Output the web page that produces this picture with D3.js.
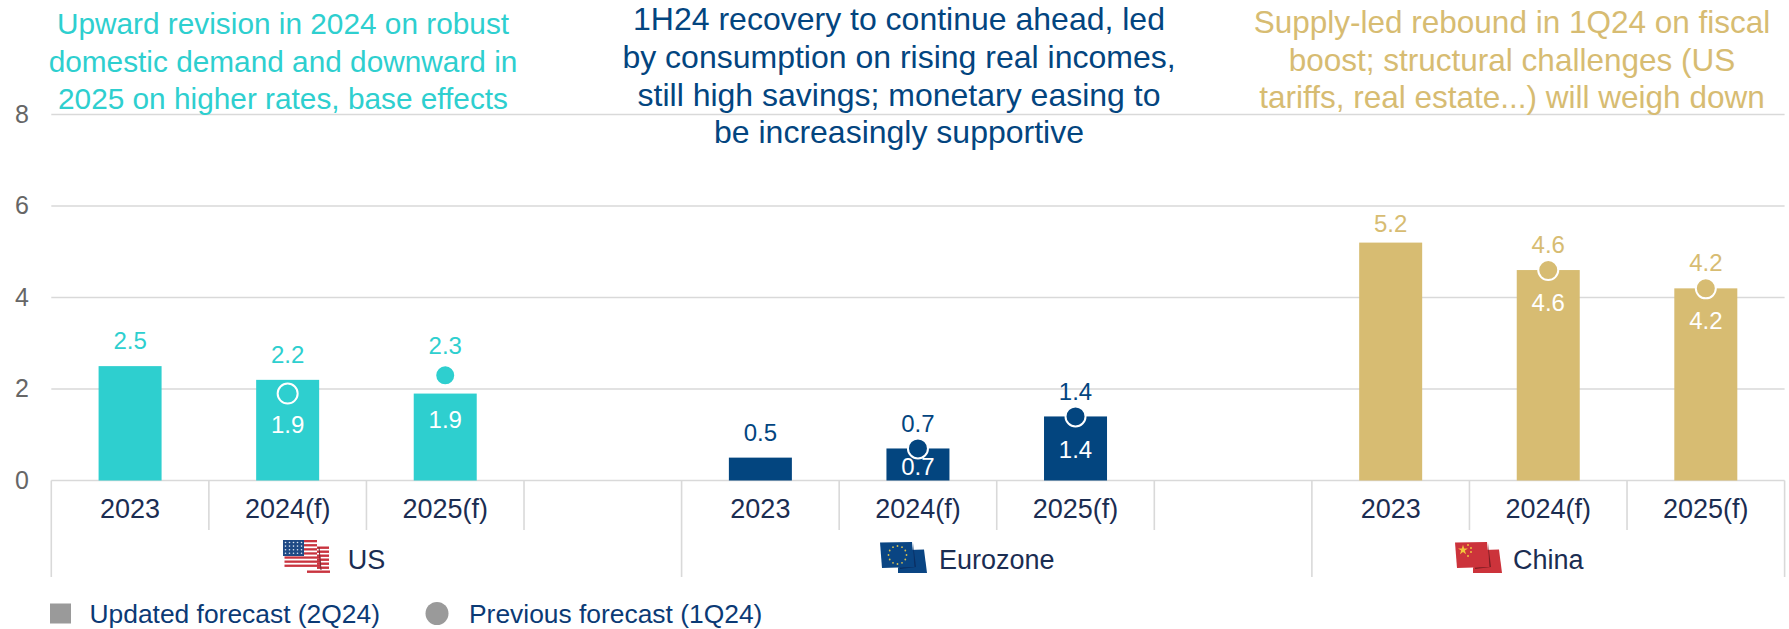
<!DOCTYPE html>
<html>
<head>
<meta charset="utf-8">
<script src="https://cdn.jsdelivr.net/npm/d3@7/dist/d3.min.js"></script>
<style>
html,body{margin:0;padding:0;background:#fff;}
svg{display:block;}
text{font-family:"Liberation Sans",Arial,sans-serif;}
</style>
</head>
<body>
<svg id="chart" width="1789" height="629"></svg>
<script>
// GDP growth forecasts by region
const regions = ["US", "Eurozone", "China"];
const years = ["2023", "2024(f)", "2025(f)"];
const usUpdated = [2.5, 2.2, 1.9];
const usPrevious = [null, 1.9, 2.3];
const eurozoneUpdated = [0.5, 0.7, 1.4];
const eurozonePrevious = [null, 0.7, 1.4];
const chinaUpdated = [5.2, 4.6, 4.2];
const chinaPrevious = [null, 4.6, 4.2];
const yTicks = [0, 2, 4, 6, 8];
const commentary = [
  ["Upward revision in 2024 on robust", "domestic demand and downward in", "2025 on higher rates, base effects"],
  ["1H24 recovery to continue ahead, led", "by consumption on rising real incomes,", "still high savings; monetary easing to", "be increasingly supportive"],
  ["Supply-led rebound in 1Q24 on fiscal", "boost; structural challenges (US", "tariffs, real estate...) will weigh down"]
];
const legendLabels = ["Updated forecast (2Q24)", "Previous forecast (1Q24)"];

const updated = [usUpdated, eurozoneUpdated, chinaUpdated];
const previous = [usPrevious, eurozonePrevious, chinaPrevious];

// Presentation
const regionColor = ["#2ECFCF", "#03457F", "#D7BC72"];
const gridColor = "#D9D9D9";
const axisText = "#1B2D52";
const legendText = "#0B3A75";
const greyKey = "#9A9A9A";

const svg = d3.select("#chart");
const left = 51.3, right = 1784.6, y0 = 480.5, y8 = 114.5;

// Eleven equal slots: each region takes its years plus a spacer, China has no spacer
const slots = [];
regions.forEach((r, ri) => {
  years.forEach(yr => slots.push(r + "|" + yr));
  if (ri < regions.length - 1) slots.push(r + "|gap");
});
const x = d3.scaleBand().domain(slots).range([left, right]);
const y = d3.scaleLinear().domain([0, 8]).range([y0, y8]);
const barWidth = 63;

// Horizontal grid and value axis labels
svg.append("g").selectAll("line").data(yTicks).join("line")
  .attr("x1", left).attr("x2", right)
  .attr("y1", d => y(d)).attr("y2", d => y(d))
  .attr("stroke", gridColor).attr("stroke-width", 1.6);
svg.append("g").selectAll("text").data(yTicks).join("text")
  .attr("x", 22).attr("y", d => y(d) - 1).attr("dy", "0.36em")
  .attr("text-anchor", "middle").attr("font-size", 25).attr("fill", "#666666")
  .text(d => d);

// Slot and region separators below the baseline
const sepG = svg.append("g").attr("stroke", gridColor).attr("stroke-width", 1.6);
slots.forEach(s => {
  const px = x(s);
  const isRegionStart = s.endsWith("|2023");
  sepG.append("line").attr("x1", px).attr("x2", px).attr("y1", y0)
    .attr("y2", isRegionStart ? 577 : 530);
});
sepG.append("line").attr("x1", right).attr("x2", right).attr("y1", y0).attr("y2", 577);

// Vertical gaps between a mark and its labels, tuned per label to avoid collisions
const aboveGap = {"US|2025(f)": 30, "China|2023": 19};
const insideGap = {"US|2024(f)": 44.5, "US|2025(f)": 44.5, "Eurozone|2024(f)": 18};

regions.forEach((region, ri) => {
  const color = regionColor[ri];
  const g = svg.append("g");
  years.forEach((yr, i) => {
    const key = region + "|" + yr;
    const cx = x(key) + x.bandwidth() / 2;
    const u = updated[ri][i], p = previous[ri][i];

    g.append("rect")
      .attr("x", cx - barWidth / 2).attr("width", barWidth)
      .attr("y", y(u)).attr("height", y0 - y(u))
      .attr("fill", color);

    if (p !== null) {
      g.append("circle").attr("cx", cx).attr("cy", y(p)).attr("r", 10)
        .attr("fill", color).attr("stroke", "#fff").attr("stroke-width", 2);
    }

    const hi = p === null ? u : Math.max(u, p);
    const lo = p === null ? null : Math.min(u, p);
    g.append("text")
      .attr("x", cx).attr("y", y(hi) - (aboveGap[key] ?? 25.5)).attr("dy", "0.36em")
      .attr("text-anchor", "middle").attr("font-size", 24).attr("fill", color)
      .text(d3.format(".1f")(hi));
    if (lo !== null) {
      g.append("text")
        .attr("x", cx).attr("y", y(hi) + (insideGap[key] ?? 32.5)).attr("dy", "0.36em")
        .attr("text-anchor", "middle").attr("font-size", 24).attr("fill", "#fff")
        .text(d3.format(".1f")(lo));
    }

    // Year label under the baseline
    svg.append("text")
      .attr("x", cx).attr("y", 508.5).attr("dy", "0.36em")
      .attr("text-anchor", "middle").attr("font-size", 27).attr("fill", axisText)
      .text(yr);
  });
});

// Waving flag icon: a front panel and a darker back panel, with painted details
function flag(cx, top, base, dark, paint) {
  const f = svg.append("g").attr("transform", `translate(${cx},${top})`);
  f.append("path").attr("d", "M28,8 L44,7.5 L47,31 L18,31 L18,26 Z").attr("fill", base);
  f.append("path").attr("d", "M33,1 L36,25 L20,27 L20,25.5 L34,24 Z").attr("fill", dark);
  f.append("path").attr("d", "M0,0.5 L32,0 L34.5,25 L2,26 Z").attr("fill", base);
  if (paint) paint(f);
}

const groupCenter = [
  (x("US|2023") + x("Eurozone|2023")) / 2,
  (x("Eurozone|2023") + x("China|2023")) / 2,
  (x("China|2023") + right) / 2
];

// Region names
regions.forEach((r, i) => {
  svg.append("text")
    .attr("x", groupCenter[i]).attr("y", 559.5).attr("dy", "0.36em")
    .attr("text-anchor", "middle").attr("font-size", 27).attr("fill", axisText)
    .text(r);
});

// US flag drawn as separate stripes over a white ground
(function () {
  const f = svg.append("g").attr("transform", "translate(283,540)");
  const red = "#C9343F";
  const frontStripes = d3.range(0, 7);
  f.selectAll("rect.front").data(frontStripes).join("rect")
    .attr("x", d => d < 4 ? 21 : 1.5).attr("width", d => d < 4 ? 13 : 36)
    .attr("y", d => d * 4.1).attr("height", 2.3).attr("fill", red);
  f.selectAll("rect.back").data(frontStripes).join("rect")
    .attr("x", d => d === 6 ? 24 : 34).attr("width", d => d === 6 ? 23 : 12)
    .attr("y", d => 6.5 + d * 4).attr("height", 2.4).attr("fill", red);
  f.append("path").attr("d", "M36,7 L38,30").attr("stroke", "#7A2630").attr("stroke-width", 1);
  f.append("rect").attr("x", 0).attr("y", 0).attr("width", 21).attr("height", 16).attr("fill", "#1F4A85");
  f.selectAll("circle").data(d3.range(20)).join("circle")
    .attr("cx", d => 2.5 + (d % 5) * 4).attr("cy", d => 2.5 + Math.floor(d / 5) * 3.6)
    .attr("r", 0.8).attr("fill", "#DDE6F2");
})();

// EU flag with its ring of stars
flag(880, 542, "#0A4583", "#0B2F63", f => {
  f.selectAll("circle").data(d3.range(12)).join("circle")
    .attr("cx", d => 17.5 + 9 * Math.cos(d * Math.PI / 6))
    .attr("cy", d => 13 + 9 * Math.sin(d * Math.PI / 6))
    .attr("r", 0.9).attr("fill", "#D8C050");
});

// China flag with the large star and four small ones
flag(1455, 542, "#CC333B", "#7C1E24", f => {
  f.append("path").attr("transform", "translate(8,8)")
    .attr("d", d3.symbol(d3.symbolStar, 30)).attr("fill", "#F2C63C");
  f.selectAll("circle").data([[13, 3], [16, 6], [16, 10], [13, 14]]).join("circle")
    .attr("cx", d => d[0]).attr("cy", d => d[1]).attr("r", 1).attr("fill", "#EFC03E");
});

// Commentary above each region
const noteX = [283, 899, 1512];
const noteY = [[23.5, 61.5, 98], [18, 56, 94, 131], [22, 59.5, 97]];
const noteSize = [29.8, 32, 31.5];
commentary.forEach((lines, i) => {
  svg.append("g").selectAll("text").data(lines).join("text")
    .attr("x", noteX[i]).attr("y", (d, j) => noteY[i][j]).attr("dy", "0.36em")
    .attr("text-anchor", "middle").attr("font-size", noteSize[i]).attr("fill", regionColor[i])
    .text(d => d);
});

// Legend
svg.append("rect").attr("x", 50).attr("y", 603.5).attr("width", 21).attr("height", 20).attr("fill", greyKey);
svg.append("circle").attr("cx", 437).attr("cy", 613.5).attr("r", 11.5).attr("fill", greyKey);
svg.append("text").attr("x", 89.5).attr("y", 613).attr("dy", "0.36em")
  .attr("font-size", 26.4).attr("fill", legendText).text(legendLabels[0]);
svg.append("text").attr("x", 469).attr("y", 613).attr("dy", "0.36em")
  .attr("font-size", 26.4).attr("fill", legendText).text(legendLabels[1]);
</script>
</body>
</html>
